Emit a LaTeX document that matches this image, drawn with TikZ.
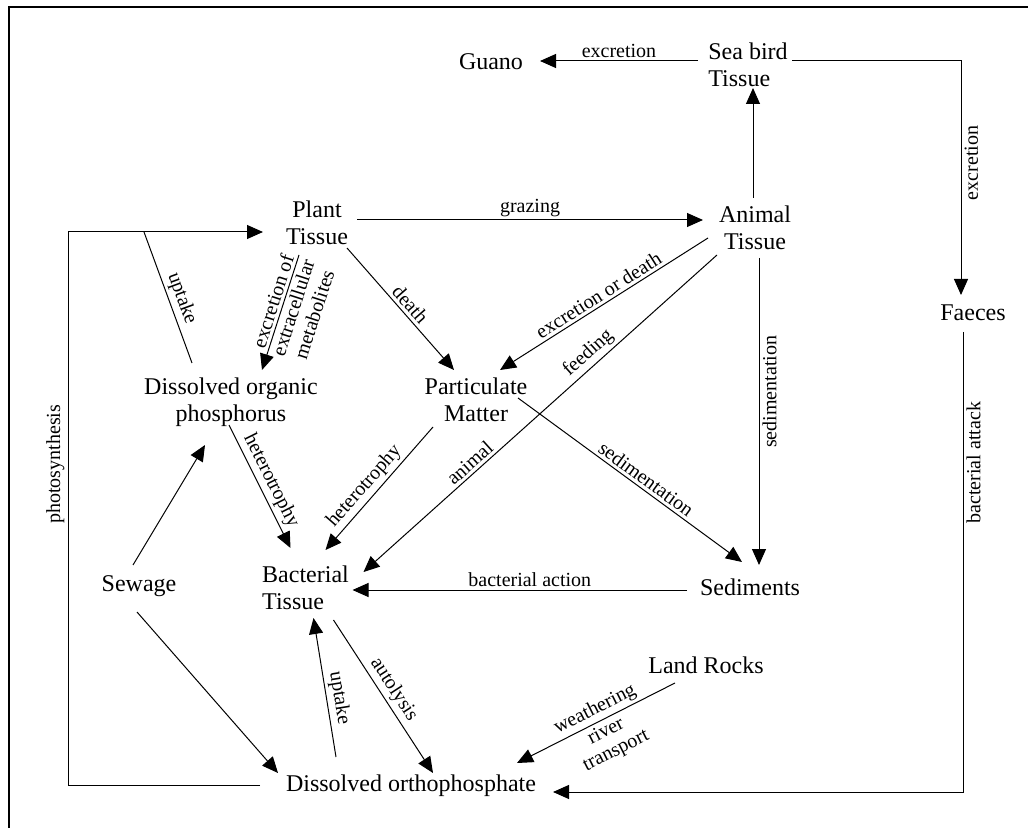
\documentclass[tikz,border=0pt]{standalone}
\usepackage{fontspec}
\setmainfont{Liberation Serif}
\usetikzlibrary{arrows.meta}
\begin{document}
\begin{tikzpicture}[x=0.5pt,y=-0.5pt,
  box/.style={align=center,font=\fontsize{12}{13.5}\selectfont,inner sep=0pt},
  lab/.style={font=\fontsize{10}{11}\selectfont,inner sep=1.5pt},
  arr/.style={line width=0.5pt,-{Triangle[length=8pt,width=7pt]}},
  ln/.style={line width=0.5pt}]
\useasboundingbox (0,0) rectangle (1028,828);
\draw[line width=1pt] (9,828) -- (9,7) -- (1028,7);

\node[box] (guano) at (491,62) {Guano};
\node[box,align=left] (seabird) at (748,65) {Sea bird\\Tissue};
\node[box] (plant) at (317,223) {Plant\\Tissue};
\node[box] (animal) at (755,228) {Animal\\Tissue};
\node[box] (faeces) at (973,313) {Faeces};
\node[box] (dop) at (231,402) {Dissolved organic\\phosphorus};
\node[box] (pm) at (476,400) {Particulate\\Matter};
\node[box,align=left] (bact) at (305.5,588) {Bacterial\\Tissue};
\node[box] (sewage) at (139,586) {Sewage};
\node[box] (sed) at (750,587) {Sediments};
\node[box] (rocks) at (706,665) {Land Rocks};
\node[box] (ortho) at (411,786) {Dissolved orthophosphate};

\coordinate (pc) at (68,232);
\coordinate (j) at (144,232);

\draw[arr] ([shift={(-50,-4)}]seabird.center) -- node[lab,above]{excretion} ([shift={(49,-1)}]guano.center);
\draw[arr] ([shift={(44,-4)}]seabird.center) -| node[lab,pos=0.718,rotate=90,anchor=north]{excretion} ([shift={(-12,-18)}]faeces.center);
\draw[arr] ([shift={(-2,-30)}]animal.center) -- ([shift={(5,23)}]seabird.center);
\draw[arr] ([shift={(40,-3)}]plant.center) -- node[lab,above]{grazing} ([shift={(-52,-8)}]animal.center);
\draw[arr] ([shift={(4,30)}]animal.center) -- node[lab,pos=0.436,rotate=90,anchor=north]{sedimentation} ([shift={(9,-22)}]sed.center);
\draw[arr] ([shift={(-47,10)}]animal.center) -- node[lab,sloped,above]{excretion or death} ([shift={(24,-30)}]pm.center);
\draw[arr] ([shift={(-38,27)}]animal.center) -- node[lab,sloped,above,pos=0.34]{feeding} node[lab,sloped,above,pos=0.68]{animal} ([shift={(58,-16)}]bact.center);
\draw[arr] ([shift={(42,-2)}]pm.center) -- node[lab,sloped,above,pos=0.545]{sedimentation} ([shift={(-8,-25)}]sed.center);
\draw[arr] ([shift={(30,25)}]plant.center) -- node[lab,sloped,above,pos=0.52]{death} ([shift={(-22,-30)}]pm.center);
\draw[arr] ([shift={(-18,32)}]plant.center) -- node[lab,sloped,above,pos=0.43]{excretion of} node[lab,sloped,below,pos=0.43,align=center]{extracellular\\metabolites} ([shift={(31,-32)}]dop.center);
\draw[arr] ([shift={(-2,23)}]dop.center) -- node[lab,sloped,above]{heterotrophy} ([shift={(-15,-40)}]bact.center);
\draw[arr] ([shift={(-43,27)}]pm.center) -- node[lab,sloped,above,pos=0.55]{heterotrophy} ([shift={(20,-38)}]bact.center);
\draw[arr] ([shift={(-6,-21)}]sewage.center) -- ([shift={(-26,43)}]dop.center);
\draw[arr] ([shift={(-2,26)}]sewage.center) -- ([shift={(-133,-13)}]ortho.center);
\draw[arr] ([shift={(28,32)}]bact.center) -- node[lab,sloped,above]{autolysis} ([shift={(22,-13)}]ortho.center);
\draw[arr] ([shift={(-75,-29)}]ortho.center) -- node[lab,sloped,above,pos=0.41]{uptake} ([shift={(8,30)}]bact.center);
\draw[arr] ([shift={(-31,18)}]rocks.center) -- node[lab,sloped,above,pos=0.47]{weathering} node[lab,sloped,below,pos=0.47,align=center]{river\\transport} ([shift={(106,-23)}]ortho.center);
\draw[arr] ([shift={(-63,3)}]sed.center) -- node[lab,above,pos=0.47]{bacterial action} ([shift={(47,2)}]bact.center);
\draw[arr] ([shift={(-10,19)}]faeces.center) |- node[lab,pos=0.142,rotate=90,anchor=north]{bacterial attack} ([shift={(142,6)}]ortho.center);
\draw[arr] ([shift={(-151,-1)}]ortho.center) -| node[lab,pos=0.79,rotate=90,anchor=south]{photosynthesis} (pc) -- ([shift={(-54,9)}]plant.center);
\draw[ln] ([shift={(-39,-39)}]dop.center) -- node[lab,sloped,above,pos=0.46]{uptake} (j);
\end{tikzpicture}
\end{document}
